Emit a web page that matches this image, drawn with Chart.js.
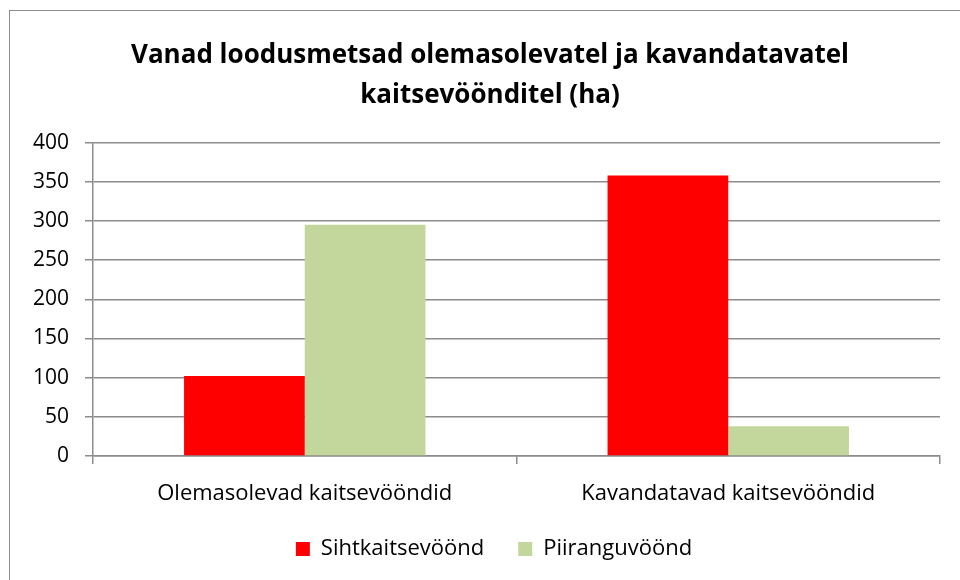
<!DOCTYPE html>
<html>
<head>
<meta charset="utf-8">
<script src="https://cdn.jsdelivr.net/npm/chart.js@4"></script>
<style>
    body { margin: 0; background: #fff; }
    #wrap { position: relative; width: 960px; height: 580px; overflow: hidden; }
    #frame { position: absolute; left: 9px; top: 10px; width: 1000px; height: 700px; border: 1.5px solid #8c8c8c; }
    canvas { position: absolute; left: 0; top: 0; }
</style>
</head>
<body>
<div id="wrap">
    <div id="frame"></div>
    <canvas id="chart" width="960" height="580"></canvas>
</div>
<script>
// Andmed
const categories = ['Olemasolevad kaitsevööndid', 'Kavandatavad kaitsevööndid'];
const sihtkaitse = [102, 358];
const piirangu = [295, 38];
const seriesNames = ['Sihtkaitsevöönd', 'Piiranguvöönd'];
const titleLines = ['Vanad loodusmetsad olemasolevatel ja kavandatavatel', 'kaitsevöönditel (ha)'];
const yMax = 400;
const yStep = 50;

const gridColor = '#8c8c8c';
const fontFamily = '"Open Sans", "Liberation Sans", sans-serif';

// pealkiri ja legend on originaalis veidi paremal
const nihutaKeskele = {
    id: 'nihutaKeskele',
    afterLayout(chart) {
        if (chart.titleBlock) { chart.titleBlock.left += 20; chart.titleBlock.right += 20; }
        if (chart.legend) { chart.legend.left += 24; chart.legend.right += 24; }
    }
};

new Chart(document.getElementById('chart').getContext('2d'), {
    type: 'bar',
    data: {
        labels: categories,
        datasets: [{
            label: seriesNames[0],
            data: sihtkaitse,
            backgroundColor: '#ff0000',
            categoryPercentage: 0.57,
            barPercentage: 1.0
        }, {
            label: seriesNames[1],
            data: piirangu,
            backgroundColor: '#c3d69b',
            categoryPercentage: 0.57,
            barPercentage: 1.0
        }]
    },
    options: {
        responsive: false,
        animation: false,
        layout: { padding: { left: 0, right: 20, top: 0, bottom: 10 } },
        plugins: {
            title: {
                display: true,
                text: titleLines,
                color: '#000',
                font: { family: fontFamily, size: 26, weight: 'bold', lineHeight: 1.55 },
                padding: { top: 35, bottom: 27 }
            },
            legend: {
                position: 'bottom',
                labels: {
                    color: '#000',
                    font: { family: fontFamily, size: 22 },
                    boxWidth: 14,
                    boxHeight: 14,
                    padding: 34
                }
            },
            tooltip: { enabled: false }
        },
        scales: {
            x: {
                grid: { display: true, drawOnChartArea: false, color: gridColor, lineWidth: 1.5, tickLength: 8 },
                border: { display: true, color: gridColor, width: 1.5 },
                ticks: { color: '#000', font: { family: fontFamily, size: 22 }, padding: 17 },
                afterFit: (scale) => { scale.height = 48; }
            },
            y: {
                min: 0,
                max: yMax,
                ticks: { stepSize: yStep, color: '#000', font: { family: fontFamily, size: 21 }, padding: 16 },
                grid: { color: gridColor, lineWidth: 1.5, tickLength: 8 },
                border: { display: true, color: gridColor, width: 1.5 },
                afterFit: (scale) => { scale.width = 93; }
            }
        }
    },
    plugins: [nihutaKeskele]
});
</script>
</body>
</html>
